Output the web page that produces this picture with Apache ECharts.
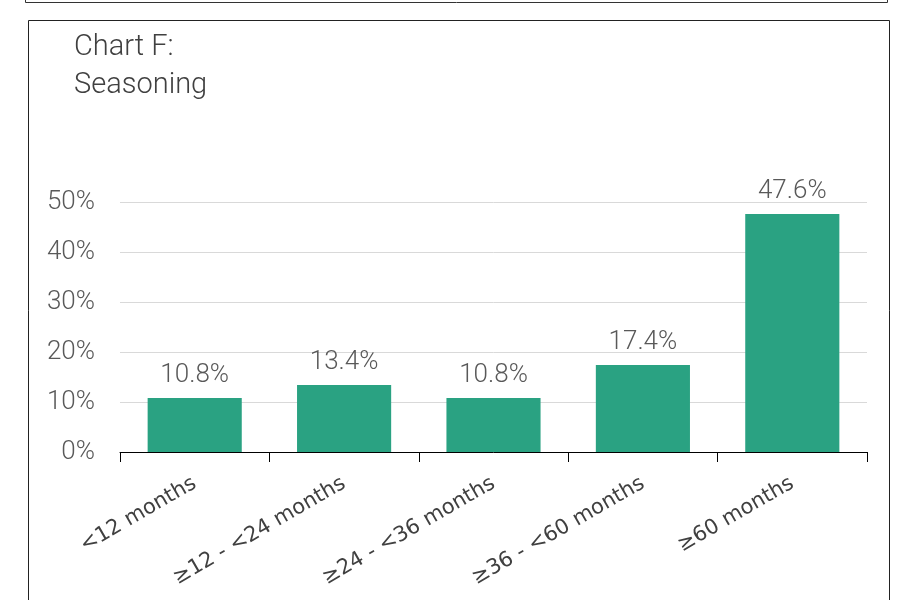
<!DOCTYPE html>
<html><head><meta charset="utf-8">
<script src="https://cdn.jsdelivr.net/npm/echarts@6/dist/echarts.min.js"></script>
<style>html,body{margin:0;padding:0;background:#fff}#c{width:900px;height:600px}</style>
</head><body><div id="c"></div>
<script>
const categories = ['<12 months', '≥12 - <24 months', '≥24 - <36 months', '≥36 - <60 months', '≥60 months'];
const values = [10.8, 13.4, 10.8, 17.4, 47.6];
const titleLines = ['Chart F:', 'Seasoning'];

const chart = echarts.init(document.getElementById('c'));
chart.setOption({
  animation: false,
  backgroundColor: '#fff',
  title: {
    text: titleLines.join('\n'),
    left: 69, top: 24,
    textStyle: { fontFamily: 'Roboto', fontWeight: 300, fontSize: 29, color: '#404040', lineHeight: 38 }
  },
  graphic: [
    { type: 'rect', shape: { x: 25.5, y: -10, width: 862, height: 12.5 }, style: { fill: 'none', stroke: '#333', lineWidth: 1 } },
    { type: 'rect', shape: { x: 28.5, y: 20.5, width: 861, height: 600 }, style: { fill: 'none', stroke: '#222', lineWidth: 1 } }
  ],
  grid: { left: 120, right: 33, top: 202, bottom: 148, containLabel: false },
  xAxis: {
    type: 'category', data: categories,
    axisLine: { lineStyle: { color: '#000', width: 1 } },
    axisTick: { show: true, length: 10, alignWithLabel: false, lineStyle: { color: '#000' } },
    axisLabel: { rotate: 30, interval: 0, fontFamily: 'DejaVu Sans', fontSize: 21, color: '#404040', margin: 30 }
  },
  yAxis: {
    type: 'value', min: 0, max: 50, interval: 10,
    axisLine: { show: false }, axisTick: { show: false },
    splitLine: { lineStyle: { color: '#d9d9d9', width: 1 } },
    axisLabel: { formatter: '{value}%', fontFamily: 'Roboto', fontWeight: 300, fontSize: 26, color: '#595959', margin: 25 }
  },
  series: [{
    type: 'bar', data: values, barWidth: '63%',
    itemStyle: { color: '#2aa282' },
    label: { show: true, position: 'top', distance: 10, formatter: p => p.value.toFixed(1) + '%',
      fontFamily: 'Roboto', fontWeight: 300, fontSize: 26, color: '#595959' }
  }]
});
</script></body></html>
